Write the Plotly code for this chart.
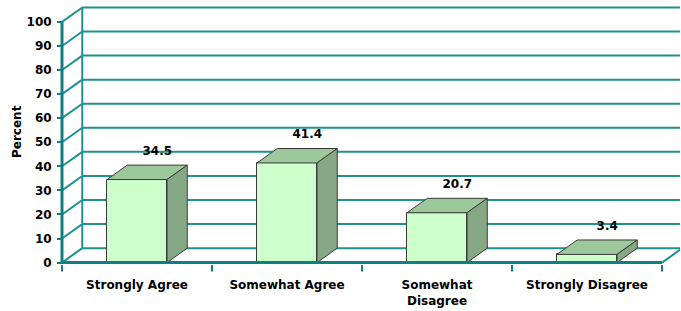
import plotly.graph_objects as go

categories = ["Strongly Agree", "Somewhat Agree", "Somewhat<br>Disagree", "Strongly Disagree"]
values = [34.5, 41.4, 20.7, 3.4]
value_labels = ["34.5", "41.4", "20.7", "3.4"]
y_ticks = list(range(0, 101, 10))

# 3D geometry (depth offsets in data units)
DX = 0.135
DY = 6.0
HW = 0.2
XMIN, XMAX = -0.52, 3.62
YMIN, YMAX = -1.0, 106.6

TEAL = "#1E9292"
TEAL_DARK = "#0E8080"
FRONT = "#CCFFCC"
TOP = "#9CC89C"
SIDE = "#86A884"
EDGE = "#3A3A3A"
FONT = "DejaVu Sans"

fig = go.Figure()

# front faces
xs = list(range(len(values)))
fig.add_trace(go.Bar(x=xs, y=values, width=2 * HW, marker=dict(color=FRONT, line=dict(color=EDGE, width=1)),
                     hoverinfo="skip", showlegend=False))

# top and side faces
for i, v in enumerate(values):
    tx = [i - HW, i + HW, i + HW + DX, i - HW + DX, i - HW]
    ty = [v, v, v + DY, v + DY, v]
    fig.add_trace(go.Scatter(x=tx, y=ty, fill="toself", fillcolor=TOP, mode="lines",
                             line=dict(color=EDGE, width=1), hoverinfo="skip", showlegend=False))
    sx = [i + HW, i + HW + DX, i + HW + DX, i + HW, i + HW]
    sy = [0, DY, v + DY, v, 0]
    fig.add_trace(go.Scatter(x=sx, y=sy, fill="toself", fillcolor=SIDE, mode="lines",
                             line=dict(color=EDGE, width=1), hoverinfo="skip", showlegend=False))

# value labels
fig.add_trace(go.Scatter(x=[i + DX for i in xs], y=[v + 11.5 for v in values], mode="text",
                         text=value_labels, textposition="middle center",
                         textfont=dict(family=FONT, size=12, color="#000000"),
                         hoverinfo="skip", showlegend=False, cliponaxis=False))

shapes = []
L = -0.5
R = 3.5
for t in y_ticks:
    shapes.append(dict(type="line", xref="x", yref="y", x0=L + DX, x1=R + DX, y0=t + DY, y1=t + DY,
                       line=dict(color=TEAL, width=2), layer="below"))
    shapes.append(dict(type="line", xref="x", yref="y", x0=L, x1=L + DX, y0=t, y1=t + DY,
                       line=dict(color=TEAL, width=2), layer="below"))
shapes.append(dict(type="line", xref="x", yref="y", x0=L + DX, x1=L + DX, y0=DY, y1=100 + DY,
                   line=dict(color=TEAL, width=2), layer="below"))
shapes.append(dict(type="line", xref="x", yref="y", x0=R + DX, x1=R + DX, y0=DY, y1=100 + DY,
                   line=dict(color=TEAL, width=2), layer="below"))
shapes.append(dict(type="line", xref="x", yref="y", x0=R, x1=R + DX, y0=0, y1=DY,
                   line=dict(color=TEAL, width=2), layer="below"))
shapes.append(dict(type="line", xref="x", yref="y", x0=L, x1=L, y0=0, y1=100,
                   line=dict(color=TEAL_DARK, width=3), layer="above"))
shapes.append(dict(type="line", xref="x", yref="y", x0=L, x1=R, y0=0, y1=0,
                   line=dict(color=TEAL_DARK, width=3), layer="above"))
for b in [-0.5, 0.5, 1.5, 2.5, 3.5]:
    shapes.append(dict(type="line", xref="x", yref="paper", x0=b, x1=b, y0=0.0, y1=-0.025,
                       line=dict(color=TEAL_DARK, width=2)))

fig.update_layout(
    width=681, height=311,
    margin=dict(l=59, r=1, t=6, b=46, autoexpand=False),
    plot_bgcolor="white", paper_bgcolor="white",
    shapes=shapes,
    bargap=0,
    xaxis=dict(range=[XMIN, XMAX], tickmode="array", tickvals=xs, ticktext=categories,
               showgrid=False, zeroline=False, showline=False, ticks="", automargin=False,
               tickfont=dict(family=FONT, size=12, color="#000000", weight="bold"), ticklabelstandoff=11),
    yaxis=dict(range=[YMIN, YMAX], tickmode="array", tickvals=y_ticks, ticktext=[str(t) for t in y_ticks],
               showgrid=False, zeroline=False, showline=False, ticks="outside", ticklen=5, automargin=False,
               tickwidth=2, tickcolor=TEAL_DARK, anchor="free", position=(L - XMIN) / (XMAX - XMIN),
               tickfont=dict(family=FONT, size=12, color="#000000", weight="bold"), ticklabelstandoff=3),
    annotations=[dict(text="<b>Percent</b>", xref="paper", yref="paper", x=(17 - 59) / 621, y=(265 - 132) / 259,
                      xanchor="center", yanchor="middle", textangle=-90, showarrow=False,
                      font=dict(family=FONT, size=12, color="#000000"))],
    font=dict(family=FONT),
)
fig.update_traces(selector=dict(mode="text"), textfont_weight="bold")

fig.write_html("out.html", config={"displayModeBar": False},
               post_script="document.body.style.margin='0';document.body.style.overflow='hidden';")
